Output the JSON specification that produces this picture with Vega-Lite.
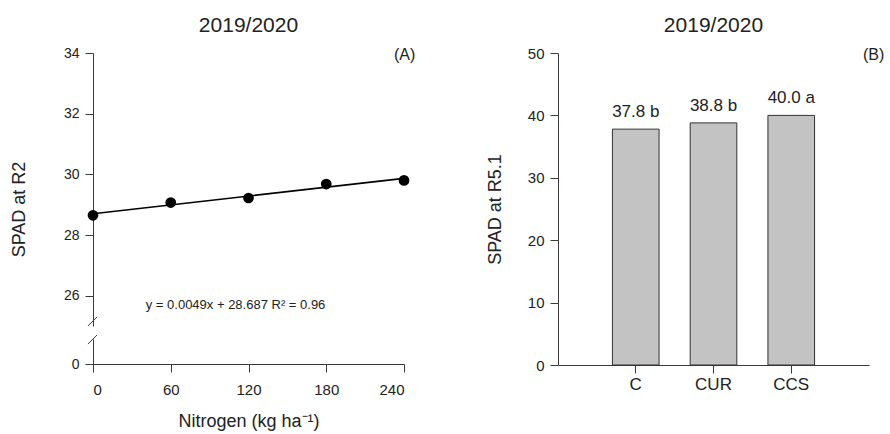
{
  "$schema": "https://vega.github.io/schema/vega-lite/v6.json",
  "background": "white",
  "padding": {"left": 10, "top": 15, "right": 0, "bottom": 5},
  "config": {
    "font": "Liberation Sans",
    "view": {"stroke": null},
    "axis": {"grid": false, "domainColor": "#3a3a3a", "tickColor": "#3a3a3a", "labelColor": "#222", "titleColor": "#222", "titleFontWeight": "normal", "tickSize": 8, "labelPadding": 6, "titleFontSize": 18},
    "title": {"fontSize": 21, "fontWeight": "normal", "color": "#222", "offset": 10, "anchor": "middle"},
    "concat": {"spacing": 70}
  },
  "datasets": {
    "nitrogen": [
      {"N": 0, "SPAD": 28.65},
      {"N": 60, "SPAD": 29.07},
      {"N": 120, "SPAD": 29.22},
      {"N": 180, "SPAD": 29.68},
      {"N": 240, "SPAD": 29.8}
    ],
    "trt": [
      {"trt": "C", "SPAD": 37.8, "label": "37.8 b"},
      {"trt": "CUR", "SPAD": 38.8, "label": "38.8 b"},
      {"trt": "CCS", "SPAD": 40.0, "label": "40.0 a"}
    ]
  },
  "hconcat": [
    {
      "spacing": 13,
      "bounds": "flush",
      "vconcat": [
        {
          "title": "2019/2020",
          "width": 311,
          "height": 273,
          "layer": [
            {
              "data": {"name": "nitrogen"},
              "transform": [{"regression": "SPAD", "on": "N", "extent": [0, 240]}],
              "mark": {"type": "line", "color": "black", "strokeWidth": 1.6},
              "encoding": {
                "x": {"field": "N", "type": "quantitative", "scale": {"domain": [0, 240]}, "axis": null},
                "y": {"field": "SPAD", "type": "quantitative", "scale": {"domain": [25.1, 34]}, "axis": {"values": [26, 28, 30, 32, 34], "title": "SPAD at R2", "labelFontSize": 14, "titlePadding": 35, "titleY": 156}}
              }
            },
            {
              "data": {"name": "nitrogen"},
              "mark": {"type": "point", "filled": true, "color": "black", "size": 115, "opacity": 1},
              "encoding": {
                "x": {"field": "N", "type": "quantitative"},
                "y": {"field": "SPAD", "type": "quantitative"}
              }
            },
            {"data": {"values": [{}]}, "mark": {"type": "text", "fontSize": 13, "color": "#222"}, "encoding": {"x": {"datum": 110, "type": "quantitative"}, "y": {"datum": 25.7, "type": "quantitative"}, "text": {"value": "y = 0.0049x + 28.687 R² = 0.96"}}},
            {"data": {"values": [{}]}, "mark": {"type": "text", "fontSize": 16, "color": "#222"}, "encoding": {"x": {"datum": 240.5, "type": "quantitative"}, "y": {"datum": 33.93, "type": "quantitative"}, "text": {"value": "(A)"}}},
            {"data": {"values": [{}]}, "mark": {"type": "rule", "color": "#3a3a3a", "strokeWidth": 1}, "encoding": {"x": {"datum": -3.9, "type": "quantitative"}, "x2": {"datum": 3.1}, "y": {"datum": 25.0, "type": "quantitative"}, "y2": {"datum": 25.3}}}
          ]
        },
        {
          "width": 311,
          "height": 25,
          "data": {"values": [{}]},
          "layer": [
            {
              "mark": {"type": "rule", "color": "#3a3a3a", "strokeWidth": 1},
              "encoding": {
                "x": {"datum": -3.9, "type": "quantitative", "scale": {"domain": [0, 240]}, "axis": {"values": [0, 60, 120, 180, 240], "title": "Nitrogen (kg ha⁻¹)", "labelFontSize": 15, "labelPadding": 10, "titlePadding": 15}},
                "x2": {"datum": 3.1},
                "y": {"datum": 0.8, "type": "quantitative", "scale": {"domain": [0, 1]}, "axis": {"values": [0], "title": null, "labelFontSize": 14}},
                "y2": {"datum": 1.16}
              }
            }
          ]
        }
      ]
    },
    {
      "title": "2019/2020",
      "width": 311,
      "height": 312,
      "resolve": {"scale": {"x": "independent"}, "axis": {"x": "independent"}},
      "layer": [
        {
          "data": {"name": "trt"},
          "encoding": {
            "x": {"field": "trt", "type": "nominal", "sort": ["C", "CUR", "CCS"], "scale": {"type": "band", "paddingInner": 0.4, "paddingOuter": 0.7}, "axis": {"title": null, "labelAngle": 0, "labelFontSize": 17, "labelPadding": 3}},
            "y": {"field": "SPAD", "type": "quantitative", "scale": {"domain": [0, 50]}, "axis": {"values": [0, 10, 20, 30, 40, 50], "title": "SPAD at R5.1", "labelFontSize": 15, "titlePadding": 23}}
          },
          "layer": [
            {"mark": {"type": "bar", "fill": "#c3c3c3", "stroke": "#333", "strokeWidth": 1}},
            {"mark": {"type": "text", "fontSize": 17, "dy": -17, "color": "#222"}, "encoding": {"text": {"field": "label"}}}
          ]
        },
        {"data": {"values": [{}]}, "mark": {"type": "text", "fontSize": 16, "color": "#222"}, "encoding": {"x": {"datum": 1.015, "type": "quantitative", "scale": {"domain": [0, 1]}, "axis": null}, "y": {"datum": 49.75, "type": "quantitative"}, "text": {"value": "(B)"}}}
      ]
    }
  ]
}
